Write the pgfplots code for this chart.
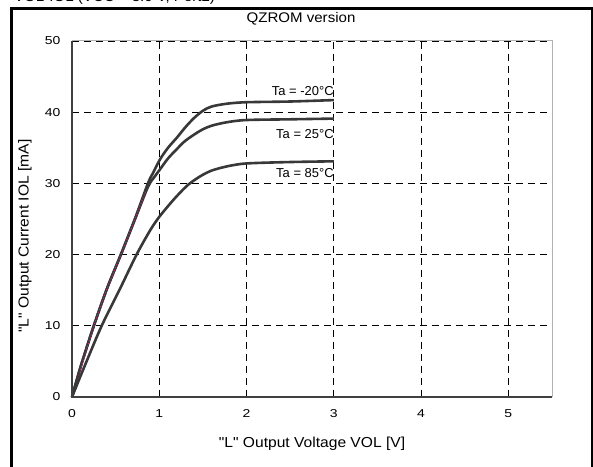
\documentclass[border=0pt]{standalone}
\usepackage{pgfplots}
\pgfplotsset{compat=1.18}
\usepackage{fontspec}
\setmainfont[FakeStretch=1.08,Ligatures=TeXOff]{Liberation Sans}
\newfontfamily\tickfont[FakeStretch=1.22,Ligatures=TeXOff]{Liberation Sans}
\newfontfamily\plainfont[Ligatures=TeXOff]{Liberation Sans}
\definecolor{curve}{HTML}{383838}
\begin{document}
\begin{tikzpicture}[x=1bp,y=1bp]
\path[use as bounding box] (0,0) rectangle (593,467);
\begin{axis}[
  at={(72bp,70bp)}, anchor=south west,
  scale only axis, width=480bp, height=356bp,
  xmin=0, xmax=5.5, ymin=0, ymax=50,
  xtick={0,1,2,3,4,5}, ytick={0,10,20,30,40,50},
  grid=major,
  major grid style={black, dash pattern=on 7bp off 5bp, line width=0.8bp},
  axis line style={gray!60, line width=1bp},
  tick style={draw=none},
  /pgf/number format/assume math mode=true,
  ticklabel style={font=\tickfont\fontsize{11.5}{14}\selectfont},
  xticklabel style={yshift=-9bp},
  yticklabel style={xshift=-8bp},
  xlabel={"L" Output Voltage VOL [V]},
  ylabel={"L" Output Current IOL [mA]},
  label style={font=\fontsize{14.5}{17}\selectfont},
  xlabel style={at={(axis description cs:0.5,0)}, anchor=center, yshift=-47bp},
  ylabel style={at={(axis description cs:-0.098,0.452)}, anchor=center},
  clip=false,
]
% Ta = -20C
\addplot[curve, line width=2.6bp, smooth, tension=0.5] coordinates {
 (0,0) (0.1,4.3) (0.25,10) (0.4,15.2) (0.56,20) (0.72,25) (0.87,30) (0.93,31.5) (1.01,33.4) (1.1,35) (1.2,36.4) (1.3,37.9) (1.4,39.2) (1.5,40.2) (1.6,40.8) (1.78,41.2) (2.0,41.4) (2.5,41.5) (3.0,41.7)};
% Ta = 25C
\addplot[curve, line width=2.6bp, smooth, tension=0.5] coordinates {
 (0,0) (0.1,4.3) (0.25,10) (0.4,15.2) (0.56,20) (0.72,24.9) (0.87,29.5) (0.95,31) (1.01,32) (1.1,33.5) (1.2,34.8) (1.3,36) (1.47,37.4) (1.6,38.1) (1.78,38.6) (2.0,38.9) (2.5,39.0) (3.0,39.1)};
\addplot[magenta!80!black, line width=1bp, dotted] coordinates {
 (0.03,1) (0.25,10) (0.4,15.2) (0.56,20) (0.72,24.9) (0.84,28.8)};
% Ta = 85C
\addplot[curve, line width=2.6bp, smooth, tension=0.5] coordinates {
 (0,0) (0.15,4.5) (0.34,10) (0.55,15.2) (0.74,20) (0.9,23.5) (1.0,25.3) (1.1,26.8) (1.2,28.2) (1.33,29.8) (1.47,31) (1.6,31.8) (1.78,32.4) (2.0,32.8) (2.5,33.0) (3.0,33.1)};
\draw[black!75, line width=1.2bp] (axis cs:0,50) -- (axis cs:0,0) -- (axis cs:5.5,0);
\node[anchor=east, font=\plainfont\fontsize{13}{15}\selectfont, inner sep=0] at (axis cs:3.0,43.0) {Ta = -20°C};
\node[anchor=east, font=\plainfont\fontsize{13}{15}\selectfont, inner sep=0] at (axis cs:3.0,37.0) {Ta = 25°C};
\node[anchor=east, font=\plainfont\fontsize{13}{15}\selectfont, inner sep=0] at (axis cs:3.0,31.4) {Ta = 85°C};
\end{axis}
\node[anchor=base, font=\fontsize{14}{16}\selectfont, inner sep=0] at (301,444.7) {QZROM version};
\node[anchor=base west, font=\fontsize{14}{16}\selectfont, inner sep=0] at (14,465.5) {VOL-IOL (VCC = 3.0 V, Port2)};
\draw[black, line width=3bp] (11,-10) -- (11,458) -- (592,458) -- (592,-10);
\end{tikzpicture}
\end{document}
